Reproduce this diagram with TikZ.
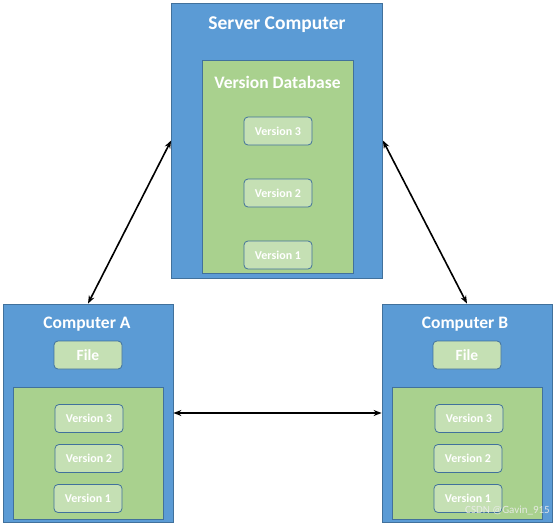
\documentclass[tikz,border=0pt]{standalone}
\usepackage{fontspec}
\setmainfont{Carlito}
\usetikzlibrary{arrows.meta}
\definecolor{bluefill}{HTML}{5B9BD5}
\definecolor{blueline}{HTML}{41719C}
\definecolor{greenfill}{HTML}{A9D18E}
\definecolor{verfill}{HTML}{C5E0B4}
\tikzset{
  outerbox/.style={draw=blueline, fill=bluefill, line width=0.8pt, inner sep=0pt},
  innerbox/.style={draw=blueline, fill=greenfill, line width=0.8pt, inner sep=0pt},
  verbox/.style={draw=blueline, fill=verfill, line width=0.8pt, rounded corners=4pt,
    minimum width=68pt, minimum height=28pt, inner sep=0pt, text=white,
    font=\bfseries\fontsize{12}{14}\selectfont},
  filebox/.style={verbox, font=\bfseries\fontsize{15.5}{17}\selectfont},
  title/.style={text=white, font=\bfseries\fontsize{19.5}{22}\selectfont, inner sep=0pt},
  subtitle/.style={text=white, font=\bfseries\fontsize{17.5}{20}\selectfont, inner sep=0pt},
  arr/.style={{Stealth[length=8pt,width=6pt]}-{Stealth[length=8pt,width=6pt]}, line width=1.6pt, black}
}
\begin{document}
\begin{tikzpicture}[x=1pt,y=-1pt]
\useasboundingbox (0,0) rectangle (555,525);
% server
\node[outerbox, minimum width=211pt, minimum height=275pt] (srv) at (277,140.5) {};
\node[title] (srvt) at (277,25) {Server Computer};
\node[innerbox, minimum width=151pt, minimum height=213pt] (db) at (277.5,166.5) {};
\node[subtitle] (dbt) at (277.5,82) {Version Database};
\node[verbox] (s3) at (278,131) {Version 3};
\node[verbox] (s2) at (278,193) {Version 2};
\node[verbox] (s1) at (278,255) {Version 1};
% computer A
\node[outerbox, minimum width=170pt, minimum height=218pt] (ca) at (88,413) {};
\node[subtitle] (cat) at (87,324) {Computer A};
\node[filebox] (fa) at (88,355) {File};
\node[innerbox, minimum width=150pt, minimum height=132pt] (ina) at (88,453) {};
\node[verbox] (a3) at (89,418.5) {Version 3};
\node[verbox] (a2) at (89,458.5) {Version 2};
\node[verbox] (a1) at (88,498.5) {Version 1};
% computer B
\node[outerbox, minimum width=170pt, minimum height=218pt] (cb) at (467,413) {};
\node[subtitle] (cbt) at (465,324) {Computer B};
\node[filebox] (fb) at (467,355) {File};
\node[innerbox, minimum width=150pt, minimum height=132pt] (inb) at (467,453) {};
\node[verbox] (b3) at (469,418.5) {Version 3};
\node[verbox] (b2) at (468,458.5) {Version 2};
\node[verbox] (b1) at (468,498.5) {Version 1};
% arrows
\draw[arr] (srv.west) -- (ca.north);
\draw[arr] (srv.east) -- (cb.north);
\draw[arr] (ca.east) -- (cb.west);
% watermark
\node[text=white!85!gray, opacity=0.9, font=\fontsize{11}{13}\selectfont, inner sep=0pt, anchor=east] (wm) at (550,510) {CSDN @Gavin\_915};
\end{tikzpicture}
\end{document}
